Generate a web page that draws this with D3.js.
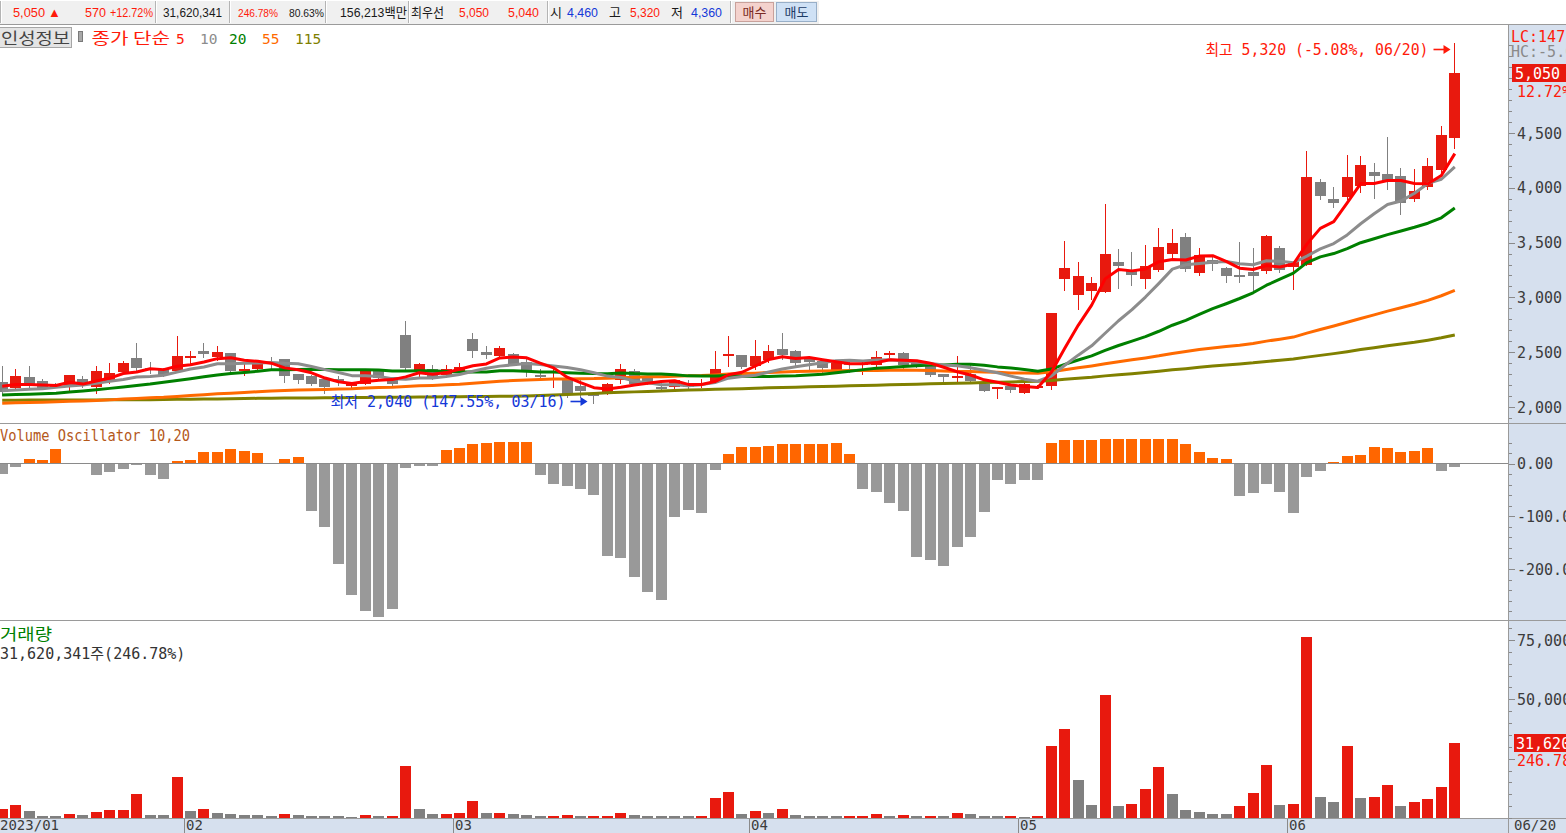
<!DOCTYPE html>
<html>
<head>
<meta charset="utf-8">
<script src="https://cdn.jsdelivr.net/npm/d3@7/dist/d3.min.js"></script>
<style>
html,body{margin:0;padding:0;background:#ffffff;overflow:hidden;}
svg{display:block;}
</style>
</head>
<body>
<svg id="chart" width="1566" height="833" xmlns="http://www.w3.org/2000/svg"></svg>
<script>
// ---------------- DATA ----------------
const stockName = "인성정보";
const dates = [
"01/10","01/11","01/12","01/13","01/16","01/17","01/18","01/19","01/20","01/25","01/26","01/27","01/30","01/31",
"02/01","02/02","02/03","02/06","02/07","02/08","02/09","02/10","02/13","02/14","02/15","02/16","02/17","02/20","02/21","02/22","02/23","02/24","02/27","02/28",
"03/02","03/03","03/06","03/07","03/08","03/09","03/10","03/13","03/14","03/15","03/16","03/17","03/20","03/21","03/22","03/23","03/24","03/27","03/28","03/29","03/30","03/31",
"04/03","04/04","04/05","04/06","04/07","04/10","04/11","04/12","04/13","04/14","04/17","04/18","04/19","04/20","04/21","04/24","04/25","04/26","04/27","04/28",
"05/02","05/03","05/04","05/08","05/09","05/10","05/11","05/12","05/15","05/16","05/17","05/18","05/19","05/22","05/23","05/24","05/25","05/26","05/30","05/31",
"06/01","06/02","06/05","06/07","06/08","06/09","06/12","06/13","06/14","06/15","06/16","06/19","06/20"];

const openP = [
2230,2180,2275,2240,2195,2180,2255,2180,2230,2320,
2445,2360,2345,2325,2460,2515,2455,2495,2340,2345,
2415,2440,2300,2285,2255,2260,2190,2215,2335,2275,
2655,2320,2345,2290,2330,2620,2505,2460,2485,2415,
2290,2260,2260,2190,2115,2120,2245,2330,2270,2180,
2180,2200,2200,2230,2480,2470,2370,2425,2530,2510,
2455,2420,2345,2405,2395,2385,2485,2495,2420,2375,
2300,2280,2300,2210,2175,2190,2130,2180,2185,3170,
3020,3060,3050,3325,3240,3170,3250,3395,3550,3225,
3340,3270,3205,3235,3245,3450,3275,3300,4050,3900,
3920,4020,4140,4125,4110,3900,4000,4160,4460];
const highP = [
2370,2345,2375,2255,2215,2290,2285,2370,2400,2420,
2585,2410,2355,2650,2515,2580,2555,2495,2400,2430,
2460,2440,2305,2295,2260,2285,2230,2340,2345,2275,
2785,2405,2380,2380,2400,2675,2555,2555,2495,2445,
2345,2345,2275,2245,2115,2215,2390,2345,2275,2225,
2250,2245,2255,2515,2650,2475,2610,2565,2675,2520,
2465,2430,2425,2430,2420,2510,2510,2505,2425,2380,
2305,2465,2385,2215,2185,2205,2215,2200,2855,3515,
3325,3185,3850,3440,3415,3480,3635,3625,3590,3450,
3385,3280,3505,3455,3570,3470,3325,4335,4080,4005,
4300,4290,4230,4460,4180,4170,4270,4560,5320];
const lowP = [
2110,2155,2160,2160,2180,2150,2180,2130,2215,2315,
2330,2310,2280,2320,2400,2460,2430,2320,2290,2340,
2355,2230,2220,2200,2130,2200,2170,2210,2260,2190,
2345,2270,2255,2270,2320,2455,2445,2455,2385,2285,
2270,2180,2095,2095,2040,2115,2215,2200,2210,2155,
2160,2155,2180,2215,2375,2355,2345,2415,2435,2385,
2340,2315,2330,2315,2305,2375,2455,2355,2365,2285,
2230,2215,2215,2145,2085,2140,2125,2175,2165,3070,
2895,2985,3045,3085,3115,3090,3240,3340,3245,3205,
3250,3145,3145,3050,3220,3235,3075,3300,3895,3825,
3900,3965,3905,3985,3765,3880,3990,4145,4360];
const closeP = [
2140,2285,2190,2175,2190,2290,2200,2330,2310,2400,
2355,2350,2290,2465,2465,2485,2500,2330,2350,2420,
2400,2285,2245,2210,2180,2230,2210,2330,2265,2215,
2355,2395,2260,2345,2365,2515,2480,2535,2385,2330,
2270,2265,2110,2140,2095,2210,2345,2215,2215,2175,
2245,2180,2215,2345,2485,2360,2465,2510,2475,2400,
2410,2360,2415,2390,2400,2460,2490,2390,2370,2290,
2275,2285,2240,2150,2180,2150,2210,2195,2855,3270,
3195,3130,3395,3285,3205,3285,3460,3495,3260,3385,
3305,3195,3190,3200,3560,3245,3325,4100,3920,3865,
4100,4210,4100,4055,3865,3970,4195,4480,5050];

const ma5 = [
2190,2205,2205,2200,2196,2226,2209,2237,2264,2306,
2319,2349,2341,2372,2385,2411,2441,2449,2426,2417,
2400,2357,2340,2312,2264,2230,2215,2232,2243,2250,
2275,2312,2298,2314,2344,2376,2393,2448,2456,2449,
2400,2357,2272,2223,2176,2164,2180,2201,2216,2232,
2239,2206,2206,2232,2294,2317,2374,2433,2459,2442,
2452,2431,2412,2395,2395,2405,2431,2426,2422,2400,
2363,2322,2292,2248,2226,2201,2186,2177,2318,2536,
2745,2929,3169,3255,3242,3260,3326,3346,3341,3377,
3381,3328,3267,3255,3290,3278,3304,3486,3630,3691,
3862,4039,4039,4066,4066,4040,4037,4113,4312];
const ma10 = [
2149,2155,2161,2167,2179,2192,2201,2216,2234,2251,
2273,2279,2289,2318,2346,2365,2395,2395,2399,2401,
2406,2399,2395,2369,2341,2315,2286,2286,2278,2257,
2253,2264,2265,2279,2297,2326,2353,2373,2385,2397,
2388,2375,2360,2340,2313,2282,2269,2237,2220,2204,
2202,2193,2204,2224,2263,2278,2290,2320,2346,2368,
2385,2403,2423,2427,2419,2429,2431,2419,2409,2398,
2384,2377,2359,2335,2313,2282,2254,2235,2283,2381,
2473,2558,2673,2787,2889,3003,3128,3258,3298,3310,
3321,3327,3307,3298,3334,3330,3316,3377,3443,3491,
3570,3672,3763,3848,3879,3951,4040,4078,4191];
const ma20 = [
2110,2113,2117,2121,2126,2136,2147,2158,2170,2183,
2197,2210,2226,2242,2258,2275,2292,2305,2315,2326,
2339,2339,2342,2344,2343,2340,2341,2341,2338,2329,
2329,2331,2330,2324,2319,2320,2319,2330,2331,2327,
2320,2319,2313,2309,2305,2304,2311,2305,2302,2300,
2295,2284,2282,2282,2288,2280,2279,2278,2283,2286,
2293,2298,2313,2326,2341,2353,2361,2369,2377,2383,
2384,2390,2391,2381,2366,2355,2343,2327,2346,2389,
2429,2467,2516,2561,2601,2642,2691,2746,2791,2845,
2897,2942,2990,3042,3111,3166,3222,3317,3370,3400,
3445,3499,3535,3573,3606,3640,3677,3726,3816];
const ma55 = [
2034,2039,2042,2044,2047,2052,2055,2060,2065,2072,
2078,2084,2088,2096,2104,2112,2121,2126,2132,2139,
2146,2151,2154,2158,2160,2164,2167,2173,2177,2180,
2186,2193,2197,2202,2208,2217,2225,2235,2241,2246,
2251,2255,2256,2258,2259,2263,2268,2272,2275,2277,
2281,2284,2287,2293,2301,2305,2309,2314,2320,2324,
2326,2329,2330,2332,2332,2334,2336,2338,2336,2333,
2329,2325,2324,2320,2316,2311,2310,2309,2321,2340,
2358,2375,2394,2413,2431,2448,2467,2489,2506,2525,
2539,2552,2564,2579,2601,2619,2638,2674,2707,2739,
2773,2807,2841,2875,2905,2937,2973,3015,3064];
const ma115 = [
2062,2062,2063,2063,2064,2064,2065,2065,2066,2066,
2067,2067,2068,2070,2071,2073,2074,2076,2077,2079,
2080,2081,2082,2083,2084,2085,2086,2087,2088,2089,
2090,2091,2092,2093,2094,2095,2096,2097,2098,2100,
2104,2109,2114,2119,2124,2129,2134,2138,2142,2146,
2150,2154,2158,2161,2164,2167,2171,2175,2178,2181,
2184,2187,2190,2193,2196,2199,2202,2205,2208,2211,
2214,2217,2220,2223,2226,2229,2232,2235,2242,2253,
2263,2272,2284,2294,2304,2315,2327,2340,2350,2362,
2373,2383,2393,2403,2416,2426,2437,2455,2471,2487,
2505,2524,2541,2559,2575,2591,2610,2631,2657];

// volume in thousands of shares
const volume = [
3790,5480,2950,840,800,1690,1260,2530,3370,3400,
10120,1260,1200,17290,2950,3790,2110,1690,1260,1200,
840,1690,1260,840,800,780,420,1260,840,900,
21900,3790,1690,1750,2110,7290,2000,2110,1690,1260,
840,880,1260,840,880,900,2110,1260,840,820,
800,780,840,8430,11000,1690,2950,2110,3790,1260,
840,820,800,840,860,1690,840,1260,840,860,
840,2110,1690,840,820,840,420,840,30350,37520,
16020,5480,51860,5060,5900,12230,21500,10120,3370,2530,
1690,1650,5060,10540,22340,5480,5900,76430,8850,6750,
30350,8430,8850,13910,5060,6750,8010,13070,31620];
const prevVolume = 3000;

// Volume Oscillator 10,20 (%)
const volOsc = [
-18.6,-5.7,9.5,7.6,28,1.9,0.6,-21,-15.2,-9.5,
-0.3,-21,-28.5,5.7,7.6,22.8,22.8,28.5,24.7,20.9,
1.9,9.5,13.3,-89,-119.5,-189.7,-248.5,-279,-290,-275,
-7.6,-3.8,-3.2,26,29.8,37.4,39.3,41.2,41.2,41.2,
-21,-38.5,-42.3,-48,-59.4,-175,-179,-215,-243.5,-258.7,
-101,-87.8,-93.5,-11.4,18.8,32,32,34,37.4,37.4,
37.4,37.4,39.3,18.8,-48,-53.7,-74.6,-89.8,-177,-182.7,
-194,-158,-139,-91.7,-30.9,-38.5,-30.9,-30.9,39.3,45,
45,45,47,47,47,47,47,47,37.4,22.8,
11.4,9.5,-61,-55.3,-38.5,-53.7,-93.5,-24.7,-13.3,3.8,
15.2,17,32.3,30.4,22.8,24.7,30.4,-13.3,-5.7];

const priceTicks = [2000,2500,3000,3500,4000,4500];
const priceTickLabels = ["2,000","2,500","3,000","3,500","4,000","4,500"];
const oscTicks = [0,-100,-200];
const oscTickLabels = ["0.00","-100.00","-200.00"];
const volTicks = [75000,50000];
const volTickLabels = ["75,000","50,000"];
const monthTickDates = ["02/01","03/02","04/03","05/02","06/01"];
const monthTickLabels = ["02","03","04","05","06"];
const firstMonthLabel = "2023/01";
const lastDateLabel = "06/20";
const maPeriods = ["5","10","20","55","115"];

// quote bar (top strip)
const quoteCells = [
  {t:"5,050",x:13,w:32,c:"red"},{t:"▲",x:48,c:"red"},
  {t:"570",x:85,w:21,c:"red"},{t:"+12.72%",x:110,w:43,c:"red"},
  {t:"31,620,341",x:163,w:59,c:"black"},
  {t:"246.78%",x:238,w:40,fs:11,c:"red"},{t:"80.63%",x:289,w:35,fs:11,c:"black"},
  {t:"156,213백만",x:340,w:67,c:"black"},
  {t:"최우선",x:411,w:33,c:"black"},{t:"5,050",x:459,w:30,c:"red"},{t:"5,040",x:508,w:31,c:"red"},
  {t:"시",x:550,c:"black"},{t:"4,460",x:567,w:31,c:"blue"},
  {t:"고",x:609,c:"black"},{t:"5,320",x:630,w:30,c:"red"},
  {t:"저",x:671,c:"black"},{t:"4,360",x:691,w:31,c:"blue"}
];

// ---------------- DRAWING ----------------
(function draw(){
const C = {
  up:"#e8190e", down:"#808080",
  ma:["#ff0000","#8c8c8c","#008000","#ff6a00","#808000"],
  oscUp:"#ff6600", oscDown:"#999999",
  axisBg:"#d6e0ee", line:"#9a9a9a", tick:"#8a8a8a", label:"#3c3c3c",
  red:"#ff1a0a", blue:"#1438d8", black:"#1a1a1a"
};
const MONO = '"DejaVu Sans Mono","Noto Sans CJK KR",monospace';
const KR = '"Noto Sans CJK KR","DejaVu Sans",sans-serif';
const NARROW = '"Liberation Sans Narrow","Liberation Sans","Noto Sans CJK KR",sans-serif';

const W = 1566, H = 833;
const plotR = 1508;
const svg = d3.select("#chart");

const rows = dates.map((d,i)=>({date:d,i,o:openP[i],h:highP[i],l:lowP[i],c:closeP[i],v:volume[i],vo:volOsc[i],
  m:[ma5[i],ma10[i],ma20[i],ma55[i],ma115[i]]}));

const x = d3.scaleBand().domain(dates).range([-4.525, 1461.525]).paddingInner(0.18).paddingOuter(0.09);
const bw = Math.round(x.bandwidth());
const step = x.step();
const bx = d => Math.round(x(d));
const cxs = d => Math.round(x(d)) + Math.floor(bw/2) + 0.5;
const yP = d3.scaleLinear().domain([priceTicks[0], priceTicks[priceTicks.length-1]]).range([407, 133]);
const yO = d3.scaleLinear().domain([oscTicks[0], oscTicks[2]]).range([463.7, 569]);
const yV = d3.scaleLinear().domain([0, volTicks[0]]).range([818, 640]);

const defs = svg.append("defs");
[["clipP",26,397],["clipO",424,196],["clipV",622,196]].forEach(([id,y,h])=>{
  defs.append("clipPath").attr("id",id).append("rect").attr("x",0).attr("y",y).attr("width",plotR).attr("height",h);
});

svg.append("rect").attr("x",0).attr("y",0).attr("width",W).attr("height",H).attr("fill","#ffffff");
svg.append("rect").attr("x",plotR+1).attr("y",25).attr("width",W-plotR-1).attr("height",H-25).attr("fill",C.axisBg);
svg.append("rect").attr("x",0).attr("y",819).attr("width",W).attr("height",14).attr("fill",C.axisBg);

// top quote strip
const qbar = svg.append("g");
qbar.append("rect").attr("x",0).attr("y",0).attr("width",819).attr("height",24).attr("fill","#f0f0f0");
qbar.append("line").attr("x1",0).attr("x2",819).attr("y1",0.5).attr("y2",0.5).attr("stroke","#ffffff");
[0,155,229,325,408,547,730].forEach(sx=>{
  qbar.append("line").attr("x1",sx+0.5).attr("x2",sx+0.5).attr("y1",1).attr("y2",23).attr("stroke","#b4b4b4");
  qbar.append("line").attr("x1",sx+1.5).attr("x2",sx+1.5).attr("y1",1).attr("y2",23).attr("stroke","#ffffff");
});
quoteCells.forEach(q=>{
  const t = qbar.append("text").attr("x",q.x).attr("y",17).attr("font-family",NARROW).attr("font-size",q.fs||13)
    .attr("fill", q.c==="red"?C.red:(q.c==="blue"?C.blue:C.black)).text(q.t);
  if (q.w) t.attr("textLength",q.w).attr("lengthAdjust","spacingAndGlyphs");
});
qbar.append("rect").attr("x",735.5).attr("y",2.5).attr("width",38).attr("height",19).attr("fill","#f4d2cd").attr("stroke","#c9a19b");
qbar.append("text").attr("x",754.5).attr("y",17).attr("text-anchor","middle").attr("font-family",KR).attr("font-size",13).attr("fill","#7a2a22").text("매수");
qbar.append("rect").attr("x",776.5).attr("y",2.5).attr("width",40).attr("height",19).attr("fill","#cfe1f5").attr("stroke","#98afc8");
qbar.append("text").attr("x",796.5).attr("y",17).attr("text-anchor","middle").attr("font-family",KR).attr("font-size",13).attr("fill","#1d3b66").text("매도");

svg.append("line").attr("x1",0).attr("x2",W).attr("y1",24.5).attr("y2",24.5).attr("stroke",C.line);
[423.5,620.5,818.5].forEach(yy=>svg.append("line").attr("x1",0).attr("x2",W).attr("y1",yy).attr("y2",yy).attr("stroke",C.line));
svg.append("line").attr("x1",plotR+0.5).attr("x2",plotR+0.5).attr("y1",25).attr("y2",H).attr("stroke",C.line);

// ---- price panel ----
const gP = svg.append("g").attr("clip-path","url(#clipP)");
const upC = d => d.c >= d.o ? C.up : C.down;
gP.selectAll("line.wick").data(rows).join("line").attr("class","wick")
  .attr("x1",d=>cxs(d.date)).attr("x2",d=>cxs(d.date))
  .attr("y1",d=>Math.round(yP(d.h))).attr("y2",d=>Math.round(yP(d.l))+1)
  .attr("stroke",upC).attr("stroke-width",1).attr("shape-rendering","crispEdges");
gP.selectAll("rect.body").data(rows).join("rect").attr("class","body")
  .attr("x",d=>bx(d.date)).attr("width",bw)
  .attr("y",d=>Math.round(yP(Math.max(d.o,d.c))))
  .attr("height",d=>Math.max(2,Math.round(Math.abs(yP(d.o)-yP(d.c)))))
  .attr("fill",upC).attr("shape-rendering","crispEdges");

[4,3,2,1,0].forEach(k=>{
  const line = d3.line().x(d=>x(d.date)+x.bandwidth()/2).y(d=>yP(d.m[k]));
  gP.append("path").datum(rows).attr("d",line).attr("fill","none")
    .attr("stroke",C.ma[k]).attr("stroke-width",3).attr("stroke-linejoin","round");
});

// high / low annotations with solid arrows
const hiIdx = d3.maxIndex(rows,d=>d.h), loIdx = d3.minIndex(rows,d=>d.l);
const last = rows[rows.length-1];
const fmt = d3.format(",");
const hi = rows[hiIdx], lo = rows[loIdx];
const hiPct = ((last.c-hi.h)/hi.h*100).toFixed(2);
const loPct = ((last.c-lo.l)/lo.l*100).toFixed(2);
function note(tipX, yMid, str, col, w){
  const g = svg.append("g");
  g.append("line").attr("x1",tipX-17).attr("x2",tipX-6).attr("y1",yMid).attr("y2",yMid).attr("stroke",col).attr("stroke-width",1.6);
  g.append("path").attr("d",`M${tipX},${yMid}L${tipX-7},${yMid-4.5}L${tipX-7},${yMid+4.5}Z`).attr("fill",col);
  g.append("text").attr("x",tipX-22-w).attr("y",yMid+5.5).attr("font-family",MONO).attr("font-size",15)
    .attr("fill",col).attr("textLength",w).attr("lengthAdjust","spacingAndGlyphs").text(str);
}
note(cxs(hi.date)-4, Math.round(yP(hi.h))+6.5, `최고 ${fmt(hi.h)} (${hiPct}%, ${hi.date})`, C.red, 223);
note(cxs(lo.date)-6, Math.round(yP(lo.l))-1.5, `최저 ${fmt(lo.l)} (${loPct}%, ${lo.date})`, C.blue, 235);

// legend
svg.append("rect").attr("x",-3.5).attr("y",27.5).attr("width",75).attr("height",20).attr("fill","#e4e4e4").attr("stroke","#a6a6a6");
svg.append("text").attr("x",1).attr("y",44).attr("font-family",KR).attr("font-size",16).attr("fill","#444")
  .attr("textLength",69).attr("lengthAdjust","spacingAndGlyphs").text(stockName);
svg.append("rect").attr("x",78.5).attr("y",31.5).attr("width",4).attr("height",10).attr("fill","#a8a8a8").attr("stroke","#7a7a7a");
svg.append("text").attr("x",91.5).attr("y",44).attr("font-family",KR).attr("font-size",16).attr("fill","#ff1a0a")
  .attr("textLength",78.5).attr("lengthAdjust","spacingAndGlyphs").text("종가 단순");
const legX = [176,200,229,262,295];
maPeriods.forEach((p,k)=>{
  svg.append("text").attr("x",legX[k]).attr("y",44).attr("font-family",MONO).attr("font-size",14.5)
    .attr("fill", k===0?"#ff1a0a":C.ma[k]).text(p);
});

// price axis
const ax = svg.append("g");
d3.range(1900,5301,100).forEach(v=>{
  const yy = Math.round(yP(v))+0.5;
  const major = priceTicks.includes(v);
  ax.append("line").attr("x1",plotR+1).attr("x2",plotR+(major?7:4)).attr("y1",yy).attr("y2",yy).attr("stroke",C.tick);
});
priceTicks.forEach((v,i)=>{
  ax.append("text").attr("x",1517).attr("y",yP(v)+5.5).attr("font-family",MONO).attr("font-size",15)
    .attr("fill",C.label).text(priceTickLabels[i]);
});
ax.append("text").attr("x",1511).attr("y",42).attr("font-family",MONO).attr("font-size",15).attr("fill",C.red).text(`LC:${loPct}%`);
ax.append("text").attr("x",1511).attr("y",57).attr("font-family",MONO).attr("font-size",15).attr("fill","#8a8a8a").text(`HC:${hiPct}%`);
const yLast = yP(last.c);
ax.append("rect").attr("x",1512).attr("y",Math.round(yLast)-9).attr("width",W-1512).attr("height",18).attr("fill",C.up);
ax.append("text").attr("x",1515).attr("y",Math.round(yLast)+6).attr("font-family",MONO).attr("font-size",15).attr("fill","#ffffff").text(fmt(last.c));
const chg = ((last.c-rows[rows.length-2].c)/rows[rows.length-2].c*100).toFixed(2);
ax.append("text").attr("x",1517).attr("y",Math.round(yLast)+24).attr("font-family",MONO).attr("font-size",15).attr("fill",C.red).text(`${chg}%`);

// ---- volume oscillator ----
const gO = svg.append("g").attr("clip-path","url(#clipO)");
gO.selectAll("rect").data(rows).join("rect")
  .attr("x",d=>bx(d.date)).attr("width",bw)
  .attr("y",d=>d.vo>=0?Math.round(yO(d.vo)):Math.round(yO(0)))
  .attr("height",d=>Math.max(1,Math.round(Math.abs(yO(d.vo)-yO(0)))))
  .attr("fill",d=>d.vo>=0?C.oscUp:C.oscDown).attr("shape-rendering","crispEdges");
gO.append("line").attr("x1",0).attr("x2",plotR).attr("y1",Math.round(yO(0))-0.5).attr("y2",Math.round(yO(0))-0.5).attr("stroke","#8a8a8a");
svg.append("text").attr("x",0).attr("y",441).attr("font-family",MONO).attr("font-size",15).attr("fill","#b4581a")
  .attr("textLength",190).attr("lengthAdjust","spacingAndGlyphs").text("Volume Oscillator 10,20");
d3.range(40,-300,-20).forEach(v=>{
  const yy = Math.round(yO(v))+0.5;
  const major = oscTicks.includes(v);
  ax.append("line").attr("x1",plotR+1).attr("x2",plotR+(major?7:4)).attr("y1",yy).attr("y2",yy).attr("stroke",C.tick);
});
oscTicks.forEach((v,i)=>{
  ax.append("text").attr("x",1517).attr("y",yO(v)+5.5).attr("font-family",MONO).attr("font-size",15)
    .attr("fill",C.label).text(oscTickLabels[i]);
});

// ---- volume ----
const gV = svg.append("g").attr("clip-path","url(#clipV)");
gV.selectAll("rect").data(rows).join("rect")
  .attr("x",d=>bx(d.date)).attr("width",bw)
  .attr("y",d=>Math.round(yV(d.v)))
  .attr("height",d=>Math.max(1,818-Math.round(yV(d.v))))
  .attr("fill",(d,i)=> d.v > (i===0?prevVolume:volume[i-1]) ? C.up : C.down)
  .attr("shape-rendering","crispEdges");
svg.append("text").attr("x",0).attr("y",640).attr("font-family",KR).attr("font-size",16).attr("fill","#008000")
  .attr("textLength",52).attr("lengthAdjust","spacingAndGlyphs").text("거래량");
const volPct = "246.78";
svg.append("text").attr("x",0).attr("y",659).attr("font-family",MONO).attr("font-size",15).attr("fill","#333")
  .text(`31,620,341주(${volPct}%)`);
d3.range(0,80001,5000).forEach(v=>{
  const yy = Math.round(yV(v))+0.5;
  const major = volTicks.includes(v) || v===25000;
  ax.append("line").attr("x1",plotR+1).attr("x2",plotR+(major?7:4)).attr("y1",yy).attr("y2",yy).attr("stroke",C.tick);
});
volTicks.forEach((v,i)=>{
  ax.append("text").attr("x",1517).attr("y",yV(v)+5.5).attr("font-family",MONO).attr("font-size",15)
    .attr("fill",C.label).text(volTickLabels[i]);
});
const yLV = Math.round(yV(last.v));
ax.append("rect").attr("x",1514).attr("y",yLV-9).attr("width",W-1514).attr("height",18).attr("fill",C.up);
ax.append("text").attr("x",1516).attr("y",yLV+6).attr("font-family",MONO).attr("font-size",15).attr("fill","#fff").text(fmt(last.v));
ax.append("text").attr("x",1517).attr("y",yLV+23).attr("font-family",MONO).attr("font-size",15).attr("fill",C.red).text(volPct);

// ---- x axis ----
const gx = svg.append("g");
monthTickDates.forEach((d,i)=>{
  const lx = Math.round(x(d) - (step - x.bandwidth())/2) + 0.5;
  gx.append("line").attr("x1",lx).attr("x2",lx).attr("y1",819).attr("y2",H).attr("stroke","#8a8a8a");
  gx.append("text").attr("x",lx+1.5).attr("y",830).attr("font-family",MONO).attr("font-size",14).attr("fill",C.label).text(monthTickLabels[i]);
});
gx.append("text").attr("x",0).attr("y",830).attr("font-family",MONO).attr("font-size",14).attr("fill",C.label).text(firstMonthLabel);
gx.append("text").attr("x",1514).attr("y",830).attr("font-family",MONO).attr("font-size",14).attr("fill",C.label).text(lastDateLabel);
})();
</script>
</body>
</html>
